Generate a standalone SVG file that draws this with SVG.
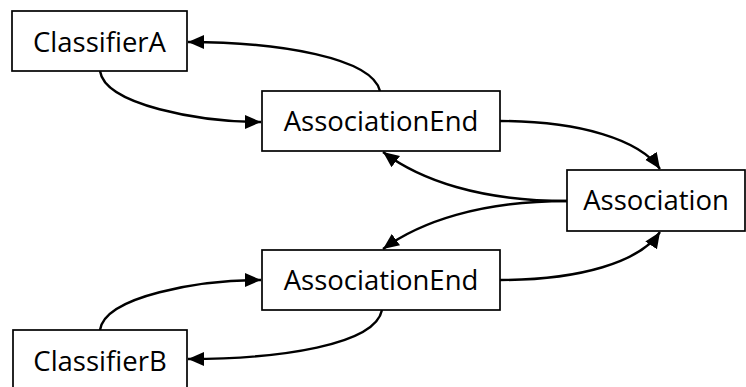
<svg xmlns="http://www.w3.org/2000/svg" width="746" height="387" viewBox="0 0 746 387">
<defs>
<marker id="arr" markerUnits="userSpaceOnUse" markerWidth="17" markerHeight="15" refX="16" refY="7" orient="auto">
<path d="M0,0 L16,7 L0,14 z" fill="#000"/>
</marker>
<style>
.box{fill:#fff;stroke:#000;stroke-width:1.7}
.lbl{font-family:"Open Sans","Liberation Sans",sans-serif;font-size:27.5px;fill:#000;text-anchor:middle}
.edge{fill:none;stroke:#000;stroke-width:2.4;marker-end:url(#arr)}
</style>
</defs>
<rect width="746" height="387" fill="#fff"/>
<g id="connectors">
<path class="edge" d="M380,91 C372,58 280,42 188,42"/>
<path class="edge" d="M100,71 C105,105 200,122 261,122"/>
<path class="edge" d="M500,121 C580,121 640,140 660,169"/>
<path class="edge" d="M567,201 C480,201 420,180 383,152"/>
<path class="edge" d="M567,201 C480,201 420,222 383,249"/>
<path class="edge" d="M500,280 C580,280 640,262 660,232"/>
<path class="edge" d="M100,330 C105,296 200,280 261,280"/>
<path class="edge" d="M382,310 C375,345 280,359 188,359"/>
</g>
<g id="classifierA">
<rect class="box" x="12" y="11" width="175" height="60"/>
<text class="lbl" x="99.5" y="52">ClassifierA</text>
</g>
<g id="associationEnd1">
<rect class="box" x="262" y="91" width="238" height="60"/>
<text class="lbl" x="381" y="131">AssociationEnd</text>
</g>
<g id="association">
<rect class="box" x="567" y="170" width="178" height="61"/>
<text class="lbl" x="656" y="210">Association</text>
</g>
<g id="associationEnd2">
<rect class="box" x="262" y="250" width="238" height="60"/>
<text class="lbl" x="381" y="290">AssociationEnd</text>
</g>
<g id="classifierB">
<rect class="box" x="13" y="330" width="174" height="70"/>
<text class="lbl" x="100" y="371">ClassifierB</text>
</g>
</svg>
